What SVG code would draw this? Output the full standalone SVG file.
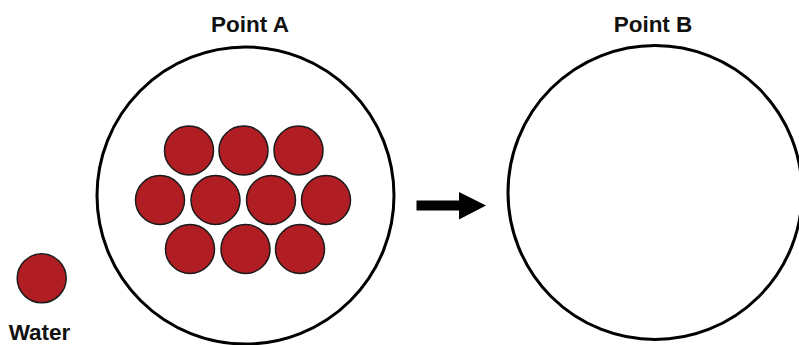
<svg xmlns="http://www.w3.org/2000/svg" width="799" height="345" viewBox="0 0 799 345">
  <style>
    .label { font-family: "Liberation Sans", Arial, sans-serif; font-weight: bold; font-size: 22.5px; fill: #111; text-anchor: middle; }
    .ring { fill: #fff; stroke: #000; stroke-width: 3; }
    .drop { fill: #b01e24; stroke: #1a1a1a; stroke-width: 1.5; }
  </style>
  <rect width="799" height="345" fill="#fff"/>

  <g id="point-a">
    <text class="label" x="250" y="31.5">Point A</text>
    <circle class="ring" cx="245.5" cy="195.5" r="148.5"/>
    <g id="point-a-particles">
      <circle class="drop" cx="189" cy="150.5" r="24.5"/>
      <circle class="drop" cx="243.5" cy="150.5" r="24.5"/>
      <circle class="drop" cx="298.5" cy="150.5" r="24.5"/>
      <circle class="drop" cx="160" cy="200" r="24.5"/>
      <circle class="drop" cx="215.5" cy="200" r="24.5"/>
      <circle class="drop" cx="271" cy="200" r="24.5"/>
      <circle class="drop" cx="326" cy="200" r="24.5"/>
      <circle class="drop" cx="190" cy="249" r="24.5"/>
      <circle class="drop" cx="245.5" cy="249" r="24.5"/>
      <circle class="drop" cx="300" cy="249" r="24.5"/>
    </g>
  </g>

  <g id="point-b">
    <text class="label" x="653" y="32">Point B</text>
    <circle class="ring" cx="655" cy="192.5" r="147"/>
  </g>

  <g id="water">
    <circle class="drop" cx="41.7" cy="278.3" r="24.5"/>
    <text class="label" x="39.5" y="340" style="font-size:22.5px">Water</text>
  </g>

  <g id="connectors">
    <polygon fill="#000" points="416.5,200.5 459,200.5 459,192 486,205.5 459,219.5 459,210.5 416.5,210.5"/>
  </g>
</svg>
